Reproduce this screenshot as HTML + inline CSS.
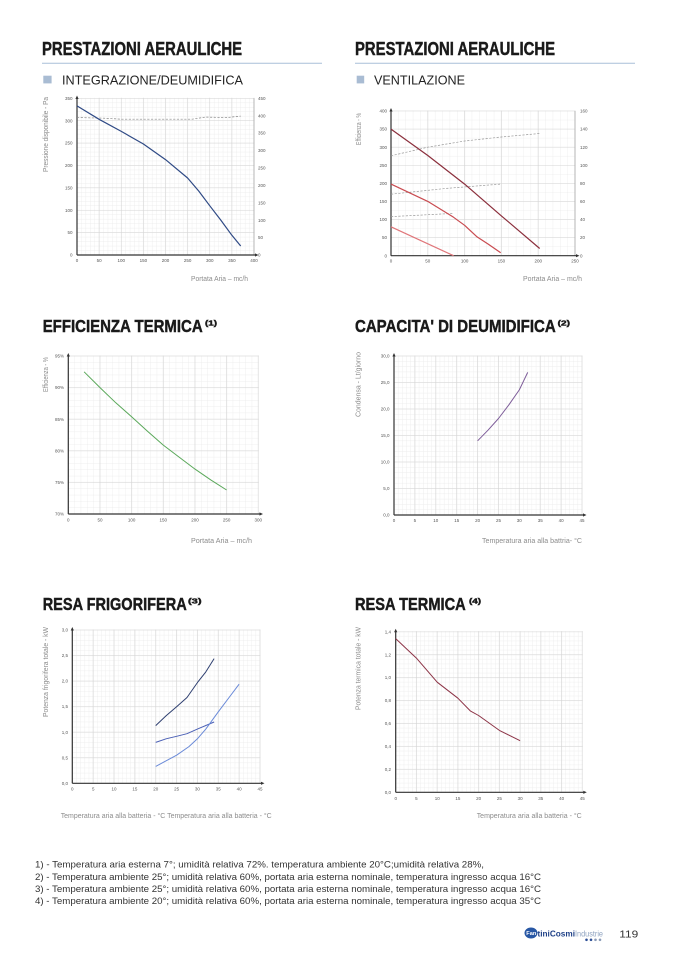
<!DOCTYPE html>
<html><head><meta charset="utf-8"><style>
html,body{margin:0;padding:0;background:#fff;}
svg{display:block;}
text{font-family:"Liberation Sans",sans-serif;}
.tt{font-weight:bold;fill:#1a1a1a;stroke:#1a1a1a;stroke-width:0.45;}
.tk{font-size:4.5px;fill:#555;}
.at{font-size:7px;fill:#8c8c8c;}
.fn{font-size:9.5px;fill:#333;}
.mi{stroke:#ebebeb;stroke-width:0.4;fill:none;}
.ma{stroke:#d4d4d4;stroke-width:0.6;fill:none;}
.ax{stroke:#333;stroke-width:1.2;fill:none;}
</style></head><body>
<svg width="678" height="959" viewBox="0 0 678 959" xmlns="http://www.w3.org/2000/svg">
<defs>
<pattern id="m1" patternUnits="userSpaceOnUse" x="74.7875" y="252.7615" width="4.425" height="4.477"><path class="mi" d="M2.2125 0V4.477M0 2.2385H4.425"/></pattern>
<pattern id="M1" patternUnits="userSpaceOnUse" x="65.9375" y="243.8075" width="22.125" height="22.385"><path class="ma" d="M11.0625 0V22.385M0 11.1925H22.125"/></pattern>
<pattern id="m2" patternUnits="userSpaceOnUse" x="387.32" y="251.1775" width="7.36" height="9.045"><path class="mi" d="M3.68 0V9.045M0 4.5225H7.36"/></pattern>
<pattern id="M2" patternUnits="userSpaceOnUse" x="372.6" y="246.655" width="36.8" height="18.09"><path class="ma" d="M18.4 0V18.09M0 9.045H36.8"/></pattern>
<pattern id="m3" patternUnits="userSpaceOnUse" x="65.1335" y="510.84" width="6.333" height="6.32"><path class="mi" d="M3.1665 0V6.32M0 3.16H6.333"/></pattern>
<pattern id="M3" patternUnits="userSpaceOnUse" x="52.4665" y="498.2" width="31.667" height="31.6"><path class="ma" d="M15.8335 0V31.6M0 15.8H31.667"/></pattern>
<pattern id="m4" patternUnits="userSpaceOnUse" x="391.911" y="512.35" width="4.178" height="5.3"><path class="mi" d="M2.089 0V5.3M0 2.65H4.178"/></pattern>
<pattern id="M4" patternUnits="userSpaceOnUse" x="383.555" y="501.75" width="20.89" height="26.5"><path class="ma" d="M10.445 0V26.5M0 13.25H20.89"/></pattern>
<pattern id="m5" patternUnits="userSpaceOnUse" x="70.2145" y="780.745" width="4.171" height="5.11"><path class="mi" d="M2.0855 0V5.11M0 2.555H4.171"/></pattern>
<pattern id="M5" patternUnits="userSpaceOnUse" x="61.8725" y="770.525" width="20.855" height="25.55"><path class="ma" d="M10.4275 0V25.55M0 12.775H20.855"/></pattern>
<pattern id="m6" patternUnits="userSpaceOnUse" x="393.6265" y="790.006" width="4.147" height="4.588"><path class="mi" d="M2.0735 0V4.588M0 2.294H4.147"/></pattern>
<pattern id="M6" patternUnits="userSpaceOnUse" x="385.3325" y="780.83" width="20.735" height="22.94"><path class="ma" d="M10.3675 0V22.94M0 11.47H20.735"/></pattern>
</defs>

<!-- ===== HEADERS ===== -->
<text class="tt" x="42" y="55" font-size="18.5" textLength="200" lengthAdjust="spacingAndGlyphs">PRESTAZIONI AERAULICHE</text>
<text class="tt" x="355" y="55" font-size="18.5" textLength="200" lengthAdjust="spacingAndGlyphs">PRESTAZIONI AERAULICHE</text>
<line x1="42" y1="63.3" x2="322" y2="63.3" stroke="#a9bfd8" stroke-width="1"/>
<line x1="355" y1="63.3" x2="635" y2="63.3" stroke="#a9bfd8" stroke-width="1"/>
<rect x="43.3" y="75.7" width="8.3" height="7.7" fill="#a9bcd3"/>
<rect x="356.7" y="75.7" width="7.5" height="7.7" fill="#a9bcd3"/>
<text x="62" y="84.5" font-size="13" fill="#222" textLength="181" lengthAdjust="spacingAndGlyphs">INTEGRAZIONE/DEUMIDIFICA</text>
<text x="374" y="84.5" font-size="13" fill="#222" textLength="91" lengthAdjust="spacingAndGlyphs">VENTILAZIONE</text>

<text class="tt" x="42.7" y="332" font-size="17.3" textLength="160" lengthAdjust="spacingAndGlyphs">EFFICIENZA TERMICA</text>
<text class="tt" x="205" y="325.7" font-size="7" textLength="12" lengthAdjust="spacingAndGlyphs" stroke-width="0.2">(1)</text>
<text class="tt" x="355" y="332" font-size="17.3" textLength="200.7" lengthAdjust="spacingAndGlyphs">CAPACITA' DI DEUMIDIFICA</text>
<text class="tt" x="557.7" y="325.7" font-size="7" textLength="12.3" lengthAdjust="spacingAndGlyphs" stroke-width="0.2">(2)</text>
<text class="tt" x="42.7" y="610" font-size="17.3" textLength="144" lengthAdjust="spacingAndGlyphs">RESA FRIGORIFERA</text>
<text class="tt" x="188" y="603.7" font-size="7" textLength="13.5" lengthAdjust="spacingAndGlyphs" stroke-width="0.2">(3)</text>
<text class="tt" x="355" y="610" font-size="17.3" textLength="110.7" lengthAdjust="spacingAndGlyphs">RESA TERMICA</text>
<text class="tt" x="469" y="603.7" font-size="7" textLength="12" lengthAdjust="spacingAndGlyphs" stroke-width="0.2">(4)</text>

<!-- ===== CHART 1 ===== -->
<rect x="76.5" y="97.8" width="178" height="157.7" fill="url(#m1)"/>
<rect x="76.5" y="97.8" width="178" height="157.7" fill="url(#M1)"/>
<line x1="254" y1="98.3" x2="254" y2="255" stroke="#999" stroke-width="0.6"/>
<path class="ax" d="M77 255V97 M77 255H256"/>
<path d="M75.4 99L78.6 99 77 95.5Z M255 253.4L255 256.6 258.5 255Z" fill="#333"/>
<polyline fill="none" stroke="#888" stroke-width="0.7" stroke-dasharray="2.2,1.5" points="77,117.5 103.6,118.2 121.3,119.2 192.1,119.2 205.3,117.1 227.5,117.5 240.7,116.1"/>
<polyline fill="none" stroke="#2f4a85" stroke-width="1.2" stroke-linejoin="round" points="77,105.9 99.1,119.3 121.3,131.4 143.4,144 165.5,159.6 187.6,178 198.7,191 209.8,205.8 220.8,220.1 231.9,235.3 240.7,246"/>
<g class="tk" text-anchor="end">
<text x="72.5" y="256.6">0</text><text x="72.5" y="234.2">50</text><text x="72.5" y="211.8">100</text><text x="72.5" y="189.4">150</text><text x="72.5" y="167.1">200</text><text x="72.5" y="144.7">250</text><text x="72.5" y="122.3">300</text><text x="72.5" y="99.9">350</text>
</g>
<g class="tk">
<text x="258" y="256.6">0</text><text x="258" y="239.2">50</text><text x="258" y="221.8">100</text><text x="258" y="204.4">150</text><text x="258" y="186.9">200</text><text x="258" y="169.5">250</text><text x="258" y="152.1">300</text><text x="258" y="134.7">350</text><text x="258" y="117.3">400</text><text x="258" y="99.9">450</text>
</g>
<g class="tk" text-anchor="middle">
<text x="77" y="262">0</text><text x="99.1" y="262">50</text><text x="121.3" y="262">100</text><text x="143.4" y="262">150</text><text x="165.5" y="262">200</text><text x="187.6" y="262">250</text><text x="209.8" y="262">300</text><text x="231.9" y="262">350</text><text x="254" y="262">400</text>
</g>
<text class="at" transform="translate(48,134.5) rotate(-90)" text-anchor="middle" textLength="75" lengthAdjust="spacingAndGlyphs">Pressione disponibile - Pa</text>
<text class="at" x="191" y="281" textLength="57" lengthAdjust="spacingAndGlyphs">Portata Aria – mc/h</text>

<!-- ===== CHART 2 ===== -->
<rect x="390.5" y="110.5" width="185" height="145.7" fill="url(#m2)"/>
<rect x="390.5" y="110.5" width="185" height="145.7" fill="url(#M2)"/>
<line x1="575" y1="111" x2="575" y2="255.7" stroke="#999" stroke-width="0.6"/>
<path class="ax" d="M391 255.7V109.5 M391 255.7H577"/>
<path d="M389.4 111.5L392.6 111.5 391 108Z M576 254.1L576 257.3 579.5 255.7Z" fill="#333"/>
<g fill="none" stroke="#999" stroke-width="0.7" stroke-dasharray="2.2,1.5">
<polyline points="391,155.8 427.8,147.2 464.6,141 501.4,137 540.4,133.4"/>
<polyline points="391,194.2 446.2,188.4 500.7,184.1"/>
<polyline points="391,216.6 453.6,213.4"/>
</g>
<g fill="none" stroke-width="1.2" stroke-linejoin="round">
<polyline stroke="#8b2f3c" points="391,129.1 427.8,155.5 464.6,184.1 501.4,215.9 539.7,248.5"/>
<polyline stroke="#c94b50" points="391,184.1 427.8,201.4 453.6,217.3 464.6,225.3 477.1,236.9 488.2,244.1 500.7,252.8"/>
<polyline stroke="#e0767a" points="391,226.8 453.6,255.7"/>
</g>
<g class="tk" text-anchor="end">
<text x="387" y="257.3">0</text><text x="387" y="239.2">50</text><text x="387" y="221.1">100</text><text x="387" y="203">150</text><text x="387" y="184.9">200</text><text x="387" y="166.9">250</text><text x="387" y="148.8">300</text><text x="387" y="130.7">350</text><text x="387" y="112.6">400</text>
</g>
<g class="tk">
<text x="580" y="257.3">0</text><text x="580" y="239.2">20</text><text x="580" y="221.1">40</text><text x="580" y="203">60</text><text x="580" y="184.9">80</text><text x="580" y="166.9">100</text><text x="580" y="148.8">120</text><text x="580" y="130.7">140</text><text x="580" y="112.6">160</text>
</g>
<g class="tk" text-anchor="middle">
<text x="391" y="262.5">0</text><text x="427.8" y="262.5">50</text><text x="464.6" y="262.5">100</text><text x="501.4" y="262.5">150</text><text x="538.2" y="262.5">200</text><text x="575" y="262.5">250</text>
</g>
<text class="at" transform="translate(361,129) rotate(-90)" text-anchor="middle" textLength="32" lengthAdjust="spacingAndGlyphs">Efficienza - %</text>
<text class="at" x="523" y="281" textLength="59" lengthAdjust="spacingAndGlyphs">Portata Aria – mc/h</text>

<!-- ===== CHART 3 ===== -->
<rect x="67.8" y="355.5" width="191" height="159" fill="url(#m3)"/>
<rect x="67.8" y="355.5" width="191" height="159" fill="url(#M3)"/>
<path class="ax" d="M68.3 514V354.5 M68.3 514H260.5"/>
<path d="M66.7 356.5L69.9 356.5 68.3 353Z M259.5 512.4L259.5 515.6 263 514Z" fill="#333"/>
<polyline fill="none" stroke="#5aa85a" stroke-width="1" stroke-linejoin="round" points="84.1,371.8 100,387.6 115.8,402.8 131.6,416.7 147.5,431.2 163.3,445.1 179.1,457.1 195,469.1 210.8,479.9 226.6,490"/>
<g class="tk" text-anchor="end">
<text x="64" y="515.6">70%</text><text x="64" y="484">75%</text><text x="64" y="452.4">80%</text><text x="64" y="420.8">85%</text><text x="64" y="389.2">90%</text><text x="64" y="357.6">95%</text>
</g>
<g class="tk" text-anchor="middle">
<text x="68.3" y="521.5">0</text><text x="100" y="521.5">50</text><text x="131.6" y="521.5">100</text><text x="163.3" y="521.5">150</text><text x="195" y="521.5">200</text><text x="226.6" y="521.5">250</text><text x="258.3" y="521.5">300</text>
</g>
<text class="at" transform="translate(48,374.5) rotate(-90)" text-anchor="middle" textLength="35" lengthAdjust="spacingAndGlyphs">Efficienza - %</text>
<text class="at" x="191" y="543" textLength="61" lengthAdjust="spacingAndGlyphs">Portata Aria – mc/h</text>

<!-- ===== CHART 4 ===== -->
<rect x="393.5" y="355.5" width="189" height="160" fill="url(#m4)"/>
<rect x="393.5" y="355.5" width="189" height="160" fill="url(#M4)"/>
<path class="ax" d="M394 515V354.5 M394 515H584"/>
<path d="M392.4 356.5L395.6 356.5 394 353Z M583 513.4L583 516.6 586.5 515Z" fill="#333"/>
<polyline fill="none" stroke="#7d5c99" stroke-width="1" stroke-linejoin="round" points="477.6,440.8 488,430.2 498.5,418.5 508.9,404.8 519.3,389.9 527.7,372.4"/>
<g class="tk" text-anchor="end">
<text x="389.5" y="516.6">0,0</text><text x="389.5" y="490.1">5,0</text><text x="389.5" y="463.6">10,0</text><text x="389.5" y="437.1">15,0</text><text x="389.5" y="410.6">20,0</text><text x="389.5" y="384.1">25,0</text><text x="389.5" y="357.6">30,0</text>
</g>
<g class="tk" text-anchor="middle">
<text x="394" y="522">0</text><text x="414.9" y="522">5</text><text x="435.8" y="522">10</text><text x="456.7" y="522">15</text><text x="477.6" y="522">20</text><text x="498.5" y="522">25</text><text x="519.3" y="522">30</text><text x="540.2" y="522">35</text><text x="561.1" y="522">40</text><text x="582" y="522">45</text>
</g>
<text class="at" transform="translate(360.5,384.5) rotate(-90)" text-anchor="middle" textLength="65" lengthAdjust="spacingAndGlyphs">Condensa - Lt/giorno</text>
<text class="at" x="482" y="543" textLength="100" lengthAdjust="spacingAndGlyphs">Temperatura aria alla battria- °C</text>

<!-- ===== CHART 5 ===== -->
<rect x="71.8" y="629.5" width="188.7" height="154.3" fill="url(#m5)"/>
<rect x="71.8" y="629.5" width="188.7" height="154.3" fill="url(#M5)"/>
<path class="ax" d="M72.3 783.3V628.5 M72.3 783.3H262"/>
<path d="M70.7 630.5L73.9 630.5 72.3 627Z M261 781.7L261 784.9 264.5 783.3Z" fill="#333"/>
<g fill="none" stroke-width="1" stroke-linejoin="round">
<polyline stroke="#2e3f70" points="155.7,725.6 166.1,715.8 176.6,706.7 187,697.5 197.4,682.6 205.8,671.9 214.1,658.6"/>
<polyline stroke="#4a5fb5" points="155.7,742.4 166.1,738.8 176.6,736.3 187,733.7 197.4,729.1 214.1,722"/>
<polyline stroke="#6a8ad8" points="155.7,766.4 176.6,755.2 189.1,746.5 197.4,738.8 205.8,729.1 218.3,711.8 228.7,698 239.1,684.2"/>
</g>
<g class="tk" text-anchor="end">
<text x="68" y="784.9">0,0</text><text x="68" y="759.3">0,5</text><text x="68" y="733.8">1,0</text><text x="68" y="708.2">1,5</text><text x="68" y="682.7">2,0</text><text x="68" y="657.2">2,5</text><text x="68" y="631.6">3,0</text>
</g>
<g class="tk" text-anchor="middle">
<text x="72.3" y="790.5">0</text><text x="93.2" y="790.5">5</text><text x="114" y="790.5">10</text><text x="134.9" y="790.5">15</text><text x="155.7" y="790.5">20</text><text x="176.6" y="790.5">25</text><text x="197.4" y="790.5">30</text><text x="218.3" y="790.5">35</text><text x="239.1" y="790.5">40</text><text x="260" y="790.5">45</text>
</g>
<text class="at" transform="translate(48,672) rotate(-90)" text-anchor="middle" textLength="90" lengthAdjust="spacingAndGlyphs">Potenza frigorifera totale - kW</text>
<text class="at" x="60.7" y="818" textLength="211" lengthAdjust="spacingAndGlyphs">Temperatura aria alla batteria - °C Temperatura aria alla batteria - °C</text>

<!-- ===== CHART 6 ===== -->
<rect x="395.2" y="631.2" width="187.6" height="161.6" fill="url(#m6)"/>
<rect x="395.2" y="631.2" width="187.6" height="161.6" fill="url(#M6)"/>
<path class="ax" d="M395.7 792.3V630.2 M395.7 792.3H584.3"/>
<path d="M394.1 632.2L397.3 632.2 395.7 628.7Z M583.3 790.7L583.3 793.9 586.8 792.3Z" fill="#333"/>
<polyline fill="none" stroke="#8c3346" stroke-width="1" stroke-linejoin="round" points="395.7,638.6 416.4,658.1 437.2,682.2 457.9,698.2 470.3,710.9 478.6,715.5 499.4,730.4 520.1,740.7"/>
<g class="tk" text-anchor="end">
<text x="391" y="793.9">0,0</text><text x="391" y="771">0,2</text><text x="391" y="748">0,4</text><text x="391" y="725.1">0,6</text><text x="391" y="702.1">0,8</text><text x="391" y="679.2">1,0</text><text x="391" y="656.3">1,2</text><text x="391" y="633.3">1,4</text>
</g>
<g class="tk" text-anchor="middle">
<text x="395.7" y="800">0</text><text x="416.4" y="800">5</text><text x="437.2" y="800">10</text><text x="457.9" y="800">15</text><text x="478.6" y="800">20</text><text x="499.4" y="800">25</text><text x="520.1" y="800">30</text><text x="540.8" y="800">35</text><text x="561.6" y="800">40</text><text x="582.3" y="800">45</text>
</g>
<text class="at" transform="translate(360.5,668.5) rotate(-90)" text-anchor="middle" textLength="83" lengthAdjust="spacingAndGlyphs">Potenza termica totale - kW</text>
<text class="at" x="476.7" y="818" textLength="105" lengthAdjust="spacingAndGlyphs">Temperatura aria alla batteria - °C</text>

<!-- ===== FOOTNOTES ===== -->
<text class="fn" x="35" y="867.5" textLength="449" lengthAdjust="spacingAndGlyphs">1) - Temperatura aria esterna 7°; umidità relativa 72%. temperatura ambiente 20°C;umidità relativa 28%,</text>
<text class="fn" x="35" y="879.8" textLength="506" lengthAdjust="spacingAndGlyphs">2) - Temperatura ambiente 25°; umidità relativa 60%, portata aria esterna nominale, temperatura ingresso acqua 16°C</text>
<text class="fn" x="35" y="892" textLength="506" lengthAdjust="spacingAndGlyphs">3) - Temperatura ambiente 25°; umidità relativa 60%, portata aria esterna nominale, temperatura ingresso acqua 16°C</text>
<text class="fn" x="35" y="904" textLength="506" lengthAdjust="spacingAndGlyphs">4) - Temperatura ambiente 20°; umidità relativa 60%, portata aria esterna nominale, temperatura ingresso acqua 35°C</text>

<!-- ===== LOGO & PAGE ===== -->
<ellipse cx="531" cy="933" rx="6.5" ry="5.5" fill="#2857a4"/>
<text x="526.3" y="935" font-size="5" font-weight="bold" fill="#fff" textLength="10" lengthAdjust="spacingAndGlyphs">Fan</text>
<text x="537.5" y="936.7" font-size="8" font-weight="bold" fill="#1d3f86" textLength="37.5" lengthAdjust="spacingAndGlyphs">tiniCosmi</text>
<text x="575" y="936.7" font-size="8" fill="#8fa3c0" textLength="28" lengthAdjust="spacingAndGlyphs">Industrie</text>
<circle cx="586.5" cy="939.8" r="1.3" fill="#2d4f96"/>
<circle cx="591" cy="939.8" r="1.3" fill="#2d4f96"/>
<circle cx="595.5" cy="939.8" r="1.3" fill="#8a9bb8"/>
<circle cx="600" cy="939.8" r="1.3" fill="#8a9bb8"/>
<text x="619.3" y="937.5" font-size="10" fill="#333" textLength="19" lengthAdjust="spacingAndGlyphs">119</text>
</svg>
</body></html>
